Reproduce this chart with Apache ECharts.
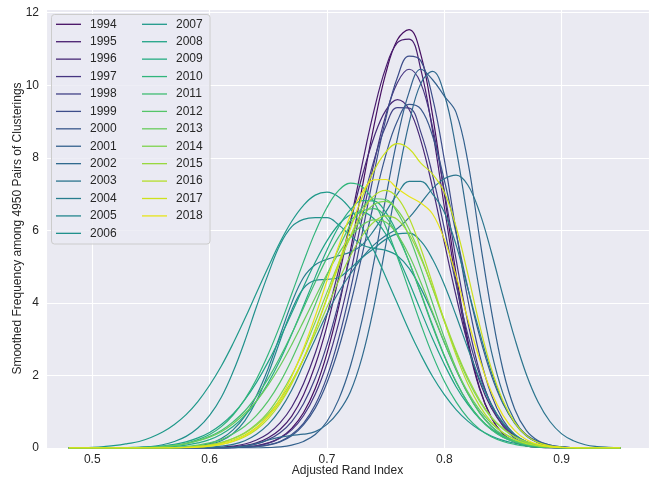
<!DOCTYPE html>
<html>
<head>
<meta charset="utf-8">
<script src="https://cdn.jsdelivr.net/npm/echarts@6/dist/echarts.min.js"></script>
<style>
  html, body { margin: 0; padding: 0; background: #ffffff; }
  #chart { width: 650px; height: 480px; }
</style>
</head>
<body>
<div id="chart"></div>
<script>
// Smoothed ARI frequency curves, one per year
const years = ['1994','1995','1996','1997','1998','1999','2000','2001','2002','2003','2004','2005','2006',
               '2007','2008','2009','2010','2011','2012','2013','2014','2015','2016','2017','2018'];

const colors = ['#460f62','#481c6e','#472977','#463581','#424286','#3d4d8a','#39578c','#34618d','#306a8e',
                '#2c758e','#287d8e','#24878e','#21918c','#1f998a','#20a386','#26ac82','#31b57b','#41bd72',
                '#54c568','#69cc5c','#7fd34e','#98d83e','#b5de2b','#cde11d','#e7e419'];

// sample positions on the Adjusted Rand Index axis
const xs = [0.48,0.49,0.50,0.51,0.52,0.53,0.54,0.55,0.56,0.57,0.58,0.59,0.60,0.61,0.62,0.63,
            0.64,0.65,0.66,0.67,0.68,0.69,0.70,0.71,0.72,0.73,0.74,0.75,0.76,0.77,0.78,0.79,
            0.80,0.81,0.82,0.83,0.84,0.85,0.86,0.87,0.88,0.89,0.90,0.91,0.92,0.93,0.94,0.95];

const v1994 = [0,0,0,0,0,0,0,0,0,0,0,0,0,0,0.01,0.03,0.06,0.14,0.28,0.54,0.97,1.64,2.61,3.89,5.45,7.18,8.87,10.31,11.25,11.53,10.84,9.17,7.00,4.81,2.98,1.66,0.84,0.38,0.16,0.06,0.02,0.01,0,0,0,0,0,0];
const v1995 = [0,0,0,0,0,0,0,0,0,0,0,0,0,0.01,0.03,0.07,0.14,0.28,0.51,0.88,1.46,2.28,3.36,4.70,6.23,7.82,9.29,10.47,11.17,11.27,10.43,8.74,6.65,4.59,2.88,1.63,0.84,0.39,0.17,0.06,0.02,0,0,0,0,0,0,0];
const v1996 = [0,0,0,0,0,0,0,0,0,0,0,0,0.01,0.02,0.05,0.11,0.22,0.40,0.69,1.13,1.77,2.61,3.67,4.91,6.22,7.49,8.56,9.30,9.60,9.33,8.47,7.17,5.67,4.19,2.88,1.84,1.10,0.62,0.33,0.16,0.07,0.03,0.01,0,0,0,0,0];
const v1997 = [0,0,0,0,0,0,0,0,0,0,0,0,0,0,0.01,0.03,0.06,0.13,0.27,0.50,0.89,1.48,2.33,3.45,4.81,6.34,7.84,9.16,10.07,10.44,10.05,8.84,7.09,5.20,3.47,2.11,1.17,0.60,0.27,0.12,0.05,0.02,0,0,0,0,0,0];
const v1998 = [0,0,0,0,0,0,0,0,0,0,0,0,0,0.01,0.02,0.05,0.11,0.23,0.42,0.73,1.22,1.92,2.85,4.01,5.32,6.68,7.92,8.86,9.38,9.37,8.70,7.52,6.05,4.51,3.13,2.02,1.21,0.67,0.35,0.17,0.08,0.03,0.01,0,0,0,0,0];
const v1999 = [0,0,0,0,0,0,0,0,0,0,0,0,0,0,0.01,0.02,0.04,0.09,0.18,0.37,0.68,1.19,1.96,3.02,4.36,5.92,7.56,9.06,10.21,10.80,10.67,9.65,7.95,5.98,4.10,2.57,1.47,0.77,0.37,0.16,0.06,0.02,0,0,0,0,0,0];
const v2000 = [0,0,0,0,0,0,0,0,0,0,0,0,0,0,0.01,0.02,0.04,0.08,0.17,0.34,0.64,1.10,1.80,2.75,3.95,5.33,6.76,8.06,9.01,9.47,9.34,8.60,7.38,5.92,4.42,3.09,2.01,1.22,0.70,0.36,0.18,0.08,0.03,0.01,0,0,0,0];
const v2001 = [0,0,0,0,0,0,0,0,0,0,0,0,0,0,0,0,0,0.01,0.03,0.08,0.18,0.37,0.73,1.34,2.26,3.54,5.13,6.88,8.53,9.81,10.44,10.15,9.70,9.25,7.90,5.80,3.80,2.15,1.07,0.48,0.20,0.08,0.03,0.01,0,0,0,0];
const v2002 = [0,0,0,0,0,0,0,0,0,0,0,0,0,0,0.02,0.05,0.12,0.22,0.30,0.35,0.38,0.45,0.65,1.00,1.55,2.51,3.89,5.58,7.37,8.96,10.05,10.38,9.75,8.25,6.30,4.33,2.68,1.50,0.76,0.34,0.14,0.05,0.02,0,0,0,0,0];
const v2003 = [0,0,0,0,0,0,0,0,0,0,0,0,0.02,0.05,0.10,0.20,0.38,0.65,1.05,1.60,2.30,3.00,3.70,4.30,4.80,5.25,5.60,5.85,6.05,6.35,6.75,7.15,7.42,7.52,7.25,6.50,5.41,4.19,3.02,2.02,1.26,0.73,0.39,0.20,0.09,0.04,0.02,0.01];
const v2004 = [0,0,0,0,0,0,0,0,0,0,0.02,0.05,0.12,0.26,0.50,0.88,1.45,2.20,3.10,4.00,4.70,5.05,5.20,5.30,5.40,5.60,6.00,6.50,7.00,7.35,7.35,7.00,6.50,5.60,4.40,3.20,2.10,1.25,0.68,0.33,0.15,0.06,0.02,0,0,0,0,0];
const v2005 = [0,0,0,0,0,0,0,0,0,0,0.02,0.05,0.10,0.20,0.40,0.75,1.30,2.05,2.95,3.80,4.40,4.62,4.65,4.70,4.95,5.25,5.50,5.75,5.90,5.92,5.70,5.20,4.50,3.65,2.75,1.90,1.20,0.70,0.37,0.17,0.07,0.03,0.01,0,0,0,0,0];
const v2006 = [0,0,0,0,0,0.01,0.02,0.04,0.09,0.18,0.32,0.55,0.90,1.40,2.10,2.95,3.90,4.80,5.60,6.10,6.30,6.35,6.35,6.15,5.85,5.60,5.50,5.45,5.30,4.95,4.40,3.70,2.90,2.15,1.50,0.98,0.60,0.34,0.18,0.08,0.03,0.01,0,0,0,0,0,0];
const v2007 = [0,0.01,0.02,0.04,0.07,0.12,0.18,0.29,0.44,0.65,0.92,1.28,1.73,2.26,2.88,3.56,4.28,4.99,5.67,6.25,6.69,6.97,7.05,6.92,6.59,6.08,5.44,4.72,3.98,3.24,2.57,1.97,1.47,1.06,0.74,0.50,0.33,0.21,0.13,0.08,0.04,0.02,0.01,0,0,0,0,0];
const v2008 = [0,0,0,0,0,0.01,0.02,0.03,0.06,0.10,0.17,0.28,0.43,0.65,0.94,1.33,1.81,2.38,3.03,3.72,4.44,5.12,5.71,6.16,6.43,6.50,6.32,5.90,5.30,4.57,3.78,3.01,2.31,1.69,1.20,0.81,0.53,0.33,0.20,0.12,0.06,0.03,0.01,0,0,0,0,0];
const v2009 = [0,0,0,0,0,0,0,0.01,0.02,0.04,0.08,0.14,0.23,0.38,0.59,0.89,1.29,1.80,2.42,3.14,3.92,4.71,5.46,6.10,6.57,6.82,6.81,6.50,5.91,5.13,4.25,3.35,2.53,1.82,1.25,0.82,0.51,0.30,0.17,0.09,0.05,0.02,0.01,0,0,0,0,0];
const v2010 = [0,0,0,0,0,0,0.01,0.02,0.04,0.07,0.13,0.23,0.37,0.59,0.91,1.34,1.90,2.59,3.38,4.25,5.13,5.95,6.63,7.10,7.30,7.20,6.78,6.11,5.26,4.34,3.41,2.56,1.84,1.27,0.83,0.52,0.31,0.18,0.10,0.05,0.02,0.01,0,0,0,0,0,0];
const v2011 = [0,0,0,0,0,0,0.01,0.02,0.04,0.07,0.12,0.20,0.32,0.48,0.72,1.02,1.43,1.92,2.50,3.15,3.86,4.57,5.24,5.82,6.27,6.53,6.60,6.37,5.85,5.13,4.27,3.39,2.55,1.83,1.25,0.82,0.51,0.30,0.17,0.09,0.04,0.02,0.01,0,0,0,0,0];
const v2012 = [0,0,0,0,0,0,0,0,0.01,0.02,0.04,0.08,0.14,0.23,0.39,0.60,0.90,1.30,1.81,2.44,3.16,3.95,4.75,5.50,6.15,6.62,6.87,6.85,6.49,5.83,4.95,3.99,3.04,2.20,1.50,0.97,0.60,0.35,0.19,0.10,0.05,0.02,0.01,0,0,0,0,0];
const v2013 = [0,0,0,0,0,0,0.01,0.02,0.04,0.07,0.12,0.20,0.30,0.45,0.67,0.95,1.30,1.74,2.26,2.85,3.49,4.15,4.79,5.36,5.82,6.14,6.29,6.23,5.88,5.31,4.56,3.74,2.92,2.18,1.55,1.05,0.68,0.42,0.25,0.14,0.07,0.03,0.01,0,0,0,0,0];
const v2014 = [0,0,0,0,0,0,0,0,0,0.01,0.02,0.05,0.09,0.15,0.26,0.42,0.66,0.99,1.45,2.01,2.69,3.47,4.29,5.09,5.81,6.37,6.71,6.80,6.56,6.03,5.28,4.40,3.49,2.63,1.89,1.29,0.84,0.52,0.31,0.17,0.09,0.04,0.02,0.01,0,0,0,0];
const v2015 = [0,0,0,0,0,0,0,0,0,0.01,0.02,0.05,0.09,0.15,0.26,0.41,0.63,0.93,1.34,1.84,2.45,3.15,3.88,4.61,5.30,5.85,6.23,6.40,6.30,5.89,5.23,4.41,3.53,2.68,1.94,1.33,0.86,0.54,0.31,0.17,0.09,0.04,0.02,0.01,0,0,0,0];
const v2016 = [0,0,0,0,0,0,0,0,0,0,0.01,0.03,0.05,0.10,0.18,0.31,0.51,0.81,1.22,1.77,2.45,3.25,4.12,5.02,5.84,6.51,6.95,7.10,6.90,6.34,5.50,4.52,3.50,2.56,1.77,1.16,0.72,0.42,0.23,0.12,0.06,0.03,0.01,0,0,0,0,0];
const v2017 = [0,0,0,0,0,0,0,0,0,0.01,0.02,0.04,0.07,0.13,0.22,0.36,0.57,0.87,1.27,1.80,2.46,3.26,4.14,5.10,6.05,6.91,7.64,8.15,8.39,8.25,7.85,7.55,7.05,6.10,4.80,3.40,2.20,1.30,0.70,0.34,0.15,0.06,0.02,0.01,0,0,0,0];
const v2018 = [0,0,0,0,0,0,0,0,0,0,0.01,0.02,0.05,0.10,0.19,0.33,0.55,0.88,1.35,1.97,2.74,3.63,4.61,5.57,6.41,7.04,7.39,7.40,7.15,6.93,6.75,6.45,5.75,4.75,3.55,2.45,1.55,0.90,0.48,0.23,0.10,0.04,0.01,0,0,0,0,0];

const curves = [v1994,v1995,v1996,v1997,v1998,v1999,v2000,v2001,v2002,v2003,v2004,v2005,v2006,
                v2007,v2008,v2009,v2010,v2011,v2012,v2013,v2014,v2015,v2016,v2017,v2018];

const xTicks = [0.5, 0.6, 0.7, 0.8, 0.9];
const yTicks = [0, 2, 4, 6, 8, 10, 12];

const FONT = 'Liberation Sans, Arial, sans-serif';
const INK = '#262626';

function tickText(list, digits) {
  return function (v) {
    const t = list.find(function (u) { return Math.abs(u - v) < 1e-6; });
    return t === undefined ? '' : t.toFixed(digits);
  };
}

const series = years.map(function (y, k) {
  return {
    name: y,
    type: 'line',
    data: xs.map(function (x, i) { return [x, curves[k][i]]; }),
    symbol: 'none',
    smooth: 0.4,
    color: colors[k],
    lineStyle: { width: 1.2, color: colors[k] },
    itemStyle: { color: colors[k] },
    emphasis: { disabled: true },
    silent: true,
    z: 2
  };
});

function legendBlock(names, left) {
  return {
    data: names,
    orient: 'vertical',
    left: left,
    top: 17.3,
    padding: 0,
    icon: 'rect',
    itemWidth: 25,
    itemHeight: 1.3,
    itemGap: 3.42,
    selectedMode: false,
    textStyle: { fontFamily: FONT, fontSize: 12, color: INK, lineHeight: 14, padding: [0, 0, 0, 4] },
    z: 5
  };
}

const chart = echarts.init(document.getElementById('chart'), null, { renderer: 'canvas' });
chart.setOption({
  animation: false,
  backgroundColor: '#ffffff',
  textStyle: { fontFamily: FONT },
  grid: {
    left: 46, right: 1, top: 9, bottom: 32,
    outerBoundsMode: 'none',
    containLabel: false,
    show: true, backgroundColor: '#eaeaf2', borderWidth: 0
  },
  xAxis: {
    type: 'value',
    min: 0.4606, max: 0.9744,
    splitNumber: 5,
    name: 'Adjusted Rand Index',
    nameLocation: 'middle',
    nameGap: 17,
    nameMoveOverlap: false,
    nameTextStyle: { fontFamily: FONT, fontSize: 12, color: INK },
    axisLine: { show: false },
    axisTick: { show: false },
    axisLabel: { fontFamily: FONT, fontSize: 12, color: INK, margin: 6, formatter: tickText(xTicks, 1) },
    splitLine: { show: true, lineStyle: { color: '#ffffff', width: 1.1 } }
  },
  yAxis: {
    type: 'value',
    min: 0, max: 12.1,
    interval: 2,
    name: 'Smoothed Frequency among 4950 Pairs of Clusterings',
    nameLocation: 'middle',
    nameGap: 22,
    nameMoveOverlap: false,
    nameTextStyle: { fontFamily: FONT, fontSize: 12, color: INK },
    axisLine: { show: false },
    axisTick: { show: false },
    axisLabel: { fontFamily: FONT, fontSize: 12, color: INK, margin: 7, formatter: tickText(yTicks, 0) },
    splitLine: { show: true, lineStyle: { color: '#ffffff', width: 1.1 } }
  },
  legend: [legendBlock(years.slice(0, 13), 56), legendBlock(years.slice(13), 142)],
  graphic: [{
    type: 'rect',
    shape: { x: 51.5, y: 14.5, width: 158.5, height: 229.5, r: 3 },
    style: { fill: 'rgba(234,234,242,0.8)', stroke: '#cccccc', lineWidth: 1 },
    z: 4,
    silent: true
  }],
  series: series
});
</script>
</body>
</html>
